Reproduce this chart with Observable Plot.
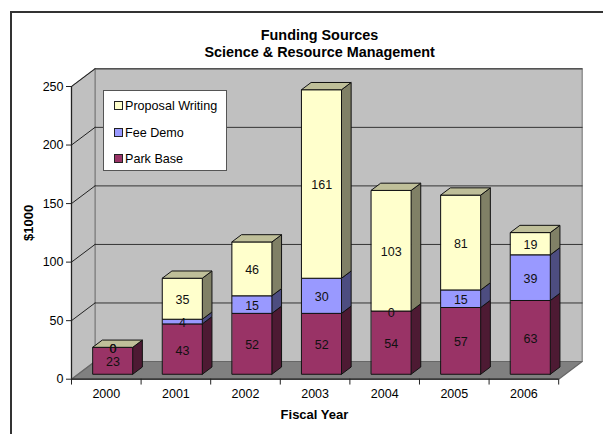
<!DOCTYPE html>
<html>
<head>
<meta charset="utf-8">
<script src="https://cdn.jsdelivr.net/npm/d3@7"></script>
<script src="https://cdn.jsdelivr.net/npm/@observablehq/plot@0.6"></script>
<style>
html,body{margin:0;padding:0;background:#fff}
#page{position:relative;width:603px;height:434px;overflow:hidden;font-family:"Liberation Sans",Arial,sans-serif;color:#000}
#edge{position:absolute;left:9.5px;top:10.5px;right:-5px;bottom:-5px;border-left:2.5px solid #333;border-top:2.5px solid #333}
#chart{position:absolute;left:0;top:0}
#legend{position:absolute;left:103px;top:90px;width:122px;height:79px;background:#fff;border:1px solid #555}
.li{position:absolute;left:21px;font-size:12.6px;line-height:14px;white-space:nowrap}
.sw{position:absolute;left:-11.5px;top:2px;width:7px;height:7px;border:1px solid #222}
</style>
</head>
<body>
<div id="page">
<div id="edge"></div>
<div id="chart"></div>
<div id="legend"></div>
</div>
<script>
const years = ["2000","2001","2002","2003","2004","2005","2006"];
const parkBase = [23,43,52,52,54,57,63];
const feeDemo = [0,4,15,30,0,15,39];
const proposalWriting = [0,35,46,161,103,81,19];
const yTicks = [0,50,100,150,200,250];
const titleText = "Funding Sources\nScience & Resource Management";

const seriesInfo = [
  {name:"Park Base", values:parkBase, front:"#993366", side:"#4d1a33", top:"#73264d"},
  {name:"Fee Demo", values:feeDemo, front:"#9999ff", side:"#4d4d80", top:"#7373bf"},
  {name:"Proposal Writing", values:proposalWriting, front:"#ffffcc", side:"#808066", top:"#bfbf99"}
];

// oblique projection in data units
const DX = 0.338, DY = 15.1, yMax = 250, n = years.length;
const D0 = 0.28, D1 = 0.69, B0 = 0.215, B1 = 0.785;
const pt = (i, v, d) => ({x: i + d*DX, y: v + d*DY});

const polys = [], labels = [];
let polyId = 0;
const poly = (fill, pts) => { const id = polyId++; pts.forEach(p => polys.push({...p, id, fill})); };

years.forEach((yr, k) => {
  let base = 0;
  const l = k + B0, r = k + B1;
  seriesInfo.forEach(s => {
    const v = s.values[k], t = base + v;
    labels.push({x: k + 0.5 + D0*DX, y: (base + t)/2 + D0*DY, text: String(v)});
    if (v > 0) {
      poly(s.side, [pt(r,base,D0), pt(r,base,D1), pt(r,t,D1), pt(r,t,D0)]);
      poly(s.front, [pt(l,base,D0), pt(r,base,D0), pt(r,t,D0), pt(l,t,D0)]);
    }
    base = t;
  });
  const last = seriesInfo[seriesInfo.length - 1];
  poly(last.top, [pt(l,base,D0), pt(r,base,D0), pt(r,base,D1), pt(l,base,D1)]);
});

const wallBack = [pt(0,0,1), pt(n,0,1), pt(n,yMax,1), pt(0,yMax,1)];
const wallSide = [pt(0,0,0), pt(0,0,1), pt(0,yMax,1), pt(0,yMax,0)];
const floor = [pt(0,0,0), pt(n,0,0), pt(n,0,1), pt(0,0,1)];
const gridBack = yTicks.slice(1).flatMap(v => [{...pt(0,v,1), v}, {...pt(n,v,1), v}]);
const gridSide = yTicks.slice(1).flatMap(v => [{...pt(0,v,0), v}, {...pt(0,v,1), v}]);

const plot = Plot.plot({
  width: 603, height: 434,
  marginLeft: 71, marginRight: 21.3, marginTop: 86, marginBottom: 55.3,
  x: {domain: [0, n + DX], axis: null},
  y: {domain: [0, yMax], axis: null},
  color: {type: "identity"},
  style: {fontFamily: '"Liberation Sans",Arial,sans-serif', background: "transparent", color: "#000", overflow: "visible"},
  marks: [
    Plot.line(wallBack, {x:"x", y:"y", fill:"#c0c0c0", stroke:"#808080", strokeWidth:1.2, curve:"linear-closed"}),
    Plot.line(wallSide, {x:"x", y:"y", fill:"#c0c0c0", stroke:"#808080", strokeWidth:1.2, curve:"linear-closed"}),
    Plot.line(floor, {x:"x", y:"y", fill:"#808080", stroke:"#666", strokeWidth:1.2, curve:"linear-closed"}),
    Plot.line(gridBack, {x:"x", y:"y", z:"v", stroke:"#333", strokeWidth:1}),
    Plot.line(gridSide, {x:"x", y:"y", z:"v", stroke:"#222", strokeWidth:1}),
    Plot.ruleY([0], {x1:0, x2:n, stroke:"#222", strokeWidth:1.2}),
    Plot.ruleX([0], {y1:0, y2:yMax, stroke:"#222", strokeWidth:1.2}),
    Plot.axisY({ticks: yTicks, tickSize: 5, tickPadding: 3, fontSize: 12.5, label: null, stroke:"#222"}),
    Plot.ruleX(d3.range(n + 1), {x: d => d, y1: 0, y2: -5, stroke:"#222"}),
    Plot.axisX({ticks: d3.range(n).map(i => i + 0.5), tickSize: 0, tickPadding: 10, fontSize: 12.5, label: null, tickFormat: d => years[Math.floor(d)]}),
    Plot.line(polys, {x:"x", y:"y", z:"id", fill:"fill", stroke:"#111", strokeWidth:1, curve:"linear-closed"}),
    Plot.text(labels, {x:"x", y:"y", text:"text", fontSize:12.5, dy:1.5, fill:"#111"}),
    Plot.text([titleText], {frameAnchor:"top", dx:-7.3, dy:-59, lineHeight:1.18, fontSize:14.4, fontWeight:"bold", lineAnchor:"top"}),
    Plot.text(["Fiscal Year"], {frameAnchor:"bottom", dx:-12.4, dy:40, fontSize:13, fontWeight:"bold"}),
    Plot.text(["$1000"], {frameAnchor:"left", dx:-43, dy:-10, rotate:-90, fontSize:13, fontWeight:"bold", textAnchor:"middle"})
  ]
});
document.getElementById("chart").appendChild(plot);

const legend = document.getElementById("legend");
[...seriesInfo].reverse().forEach((s, i) => {
  const d = document.createElement("div");
  d.className = "li";
  d.style.top = [8, 35, 61][i] + "px";
  const sw = document.createElement("span");
  sw.className = "sw";
  sw.style.background = s.front;
  d.appendChild(sw);
  d.appendChild(document.createTextNode(s.name));
  legend.appendChild(d);
});
</script>
</body>
</html>
